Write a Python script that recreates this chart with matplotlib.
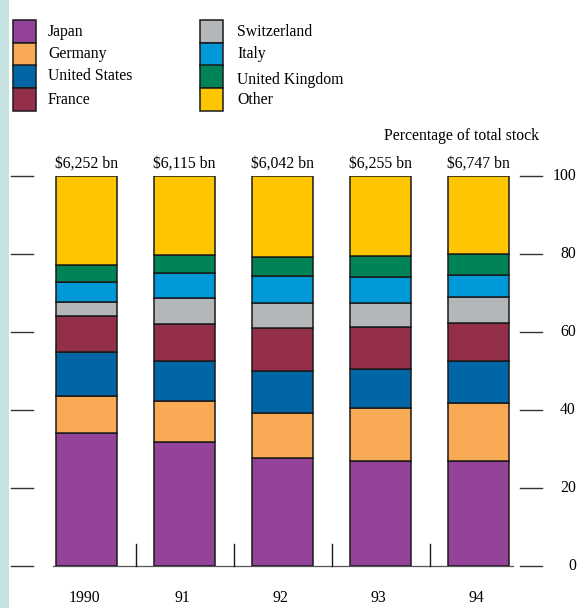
import numpy as np
import matplotlib.pyplot as plt
from matplotlib.patches import Rectangle

plt.rcParams['font.family'] = ['Liberation Serif', 'DejaVu Serif']

years = ['1990', '91', '92', '93', '94']
totals = ['$6,252 bn', '$6,115 bn', '$6,042 bn', '$6,255 bn', '$6,747 bn']
countries = ['Japan', 'Germany', 'United States', 'France',
             'Switzerland', 'Italy', 'United Kingdom', 'Other']
colors = ['#934499', '#f8aa55', '#0066a5', '#932f48',
          '#b4b7ba', '#0099d8', '#008357', '#fec600']

# share of total stock, %, bottom to top
japan       = [34.0, 31.7, 27.8, 27.0, 27.0]
germany     = [ 9.6, 10.5, 11.4, 13.4, 14.8]
usa         = [11.4, 10.4, 10.9, 10.0, 10.8]
france      = [ 9.0,  9.4, 10.8, 11.0,  9.8]
switzerland = [ 3.7,  6.7,  6.6,  6.0,  6.7]
italy       = [ 5.2,  6.4,  6.8,  6.6,  5.5]
uk          = [ 4.4,  4.7,  4.9,  5.4,  5.5]
other       = [22.7, 20.2, 20.8, 20.6, 19.9]
series = [japan, germany, usa, france, switzerland, italy, uk, other]

W, H = 578, 608
fig = plt.figure(figsize=(W / 100, H / 100), dpi=100)

def fx(x):
    return x / W

def fy(y):
    return 1 - y / H

# light strip on the left edge
fig.patches.append(Rectangle((0, 0), fx(9), 1, transform=fig.transFigure,
                             facecolor='#c5e2e0', edgecolor='none'))

# axes placed so 0% sits at pixel 566 and 100% at pixel 176
step = 98.0
x0 = 86.5
ax = fig.add_axes([0, fy(566), 1, fy(176) - fy(566)])
ax.set_xlim(-x0 / step, (W - x0) / step)
ax.set_ylim(0, 100)
ax.axis('off')

x = np.arange(len(years))
bottom = np.zeros(len(years))
for vals, c in zip(series, colors):
    ax.bar(x, vals, bottom=bottom, width=61 / step, color=c,
           edgecolor='#1a1a1a', linewidth=1.1, zorder=2)
    bottom += np.array(vals)

# baseline and small ticks between bars
ax.plot([-34 / step, (513 - x0) / step], [0, 0], color='#555555', lw=0.9,
        clip_on=False, zorder=1)
for xm in x[:-1] + 0.5:
    ax.plot([xm, xm], [0, 5.6], color='#1a1a1a', lw=1.0, clip_on=False)

# left and right tick marks with labels
for v in range(0, 101, 20):
    ax.plot([(11 - x0) / step, (33 - x0) / step], [v, v], color='#333333',
            lw=1.0, clip_on=False)
    ax.plot([(520 - x0) / step, (542 - x0) / step], [v, v], color='#333333',
            lw=1.0, clip_on=False)
    ax.text((576 - x0) / step, v, str(v), ha='right', va='center',
            fontsize=11.3, clip_on=False)

for xi, t in zip(x, totals):
    ax.text(xi, 101.2, t, ha='center', va='bottom', fontsize=11.3, clip_on=False)

# year labels sit at the very bottom edge
for xi, yr in zip(x, years):
    fig.text(fx(x0 + xi * step - 2), fy(606), yr, ha='center', va='bottom',
             fontsize=11.3)

fig.text(fx(539), fy(136.5), 'Percentage of total stock', ha='right',
         va='center', fontsize=11.3)

# legend drawn by hand, two columns of touching swatches
box_tops = [20, 42.5, 65, 88]
for i, (name, c) in enumerate(zip(countries, colors)):
    col, row = divmod(i, 4)
    bx = 13 if col == 0 else 200
    tx = 48 if col == 0 else 237
    top = box_tops[row]
    fig.patches.append(Rectangle((fx(bx), fy(top + 23)), fx(23), 23 / H,
                                 transform=fig.transFigure, facecolor=c,
                                 edgecolor='#1a1a1a', linewidth=1.1))
    dy = 3 if name == 'United Kingdom' else 0
    fig.text(fx(tx), fy(top + 11.5 + dy), name, ha='left', va='center',
             fontsize=11.3)

fig.savefig('out.png', dpi=100)
